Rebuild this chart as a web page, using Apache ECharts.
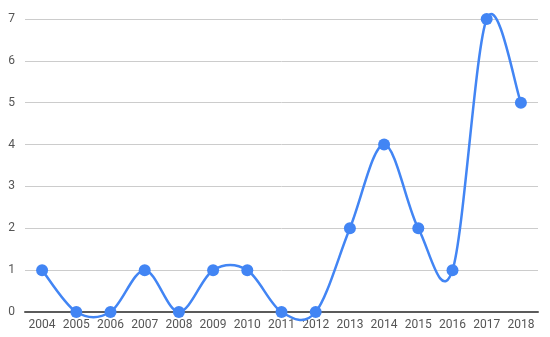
<!DOCTYPE html>
<html>
<head>
<meta charset="utf-8">
<script src="https://cdn.jsdelivr.net/npm/echarts@6/dist/echarts.min.js"></script>
<style>
  html, body { margin: 0; padding: 0; background: #fff; }
  #chart { width: 550px; height: 337px; }
</style>
</head>
<body>
<div id="chart"></div>
<script>
const years = ['2004', '2005', '2006', '2007', '2008', '2009', '2010', '2011', '2012', '2013', '2014', '2015', '2016', '2017', '2018']
const counts = [1, 0, 0, 1, 0, 1, 1, 0, 0, 2, 4, 2, 1, 7, 5]

// catmull-rom style curve, like the original's "function" curve
function renderCurve (params, api) {
  const pts = counts.map((v, i) => api.coord([i, v]))
  const n = pts.length
  const t = 1 / 6
  const children = []
  for (let i = 0; i < n - 1; i++) {
    const p0 = pts[Math.max(i - 1, 0)]
    const p1 = pts[i]
    const p2 = pts[i + 1]
    const p3 = pts[Math.min(i + 2, n - 1)]
    children.push({
      type: 'bezierCurve',
      shape: {
        x1: p1[0], y1: p1[1],
        cpx1: p1[0] + (p2[0] - p0[0]) * t,
        cpy1: p1[1] + (p2[1] - p0[1]) * t,
        cpx2: p2[0] - (p3[0] - p1[0]) * t,
        cpy2: p2[1] - (p3[1] - p1[1]) * t,
        x2: p2[0], y2: p2[1]
      },
      style: { stroke: '#4285f4', lineWidth: 2.5, fill: null }
    })
  }
  return { type: 'group', children: children }
}

const chart = echarts.init(document.getElementById('chart'))
chart.setOption({
  animation: false,
  grid: {
    top: 19,
    bottom: 25,
    left: 25,
    right: 12
  },
  xAxis: {
    type: 'category',
    boundaryGap: true,
    data: years,
    axisLabel: {
      color: '#555',
      fontFamily: 'Roboto',
      fontSize: 12,
      interval: 0,
      margin: 7
    },
    axisLine: {
      lineStyle: { color: '#5b5b5b', width: 2 }
    },
    axisTick: { show: false }
  },
  yAxis: {
    type: 'value',
    min: 0,
    max: 7,
    interval: 1,
    axisLabel: {
      color: '#555',
      fontFamily: 'Roboto',
      fontSize: 12,
      margin: 10
    },
    splitLine: {
      lineStyle: { color: '#ccc', width: 1 }
    },
    axisLine: { show: false },
    axisTick: { show: false }
  },
  series: [{
    type: 'custom',
    data: [0],
    renderItem: renderCurve,
    z: 2,
    silent: true
  }, {
    type: 'line',
    data: counts,
    symbol: 'circle',
    symbolSize: 12,
    lineStyle: { width: 0, opacity: 0 },
    itemStyle: { color: '#4285f4' },
    z: 3
  }]
})
</script>
</body>
</html>
